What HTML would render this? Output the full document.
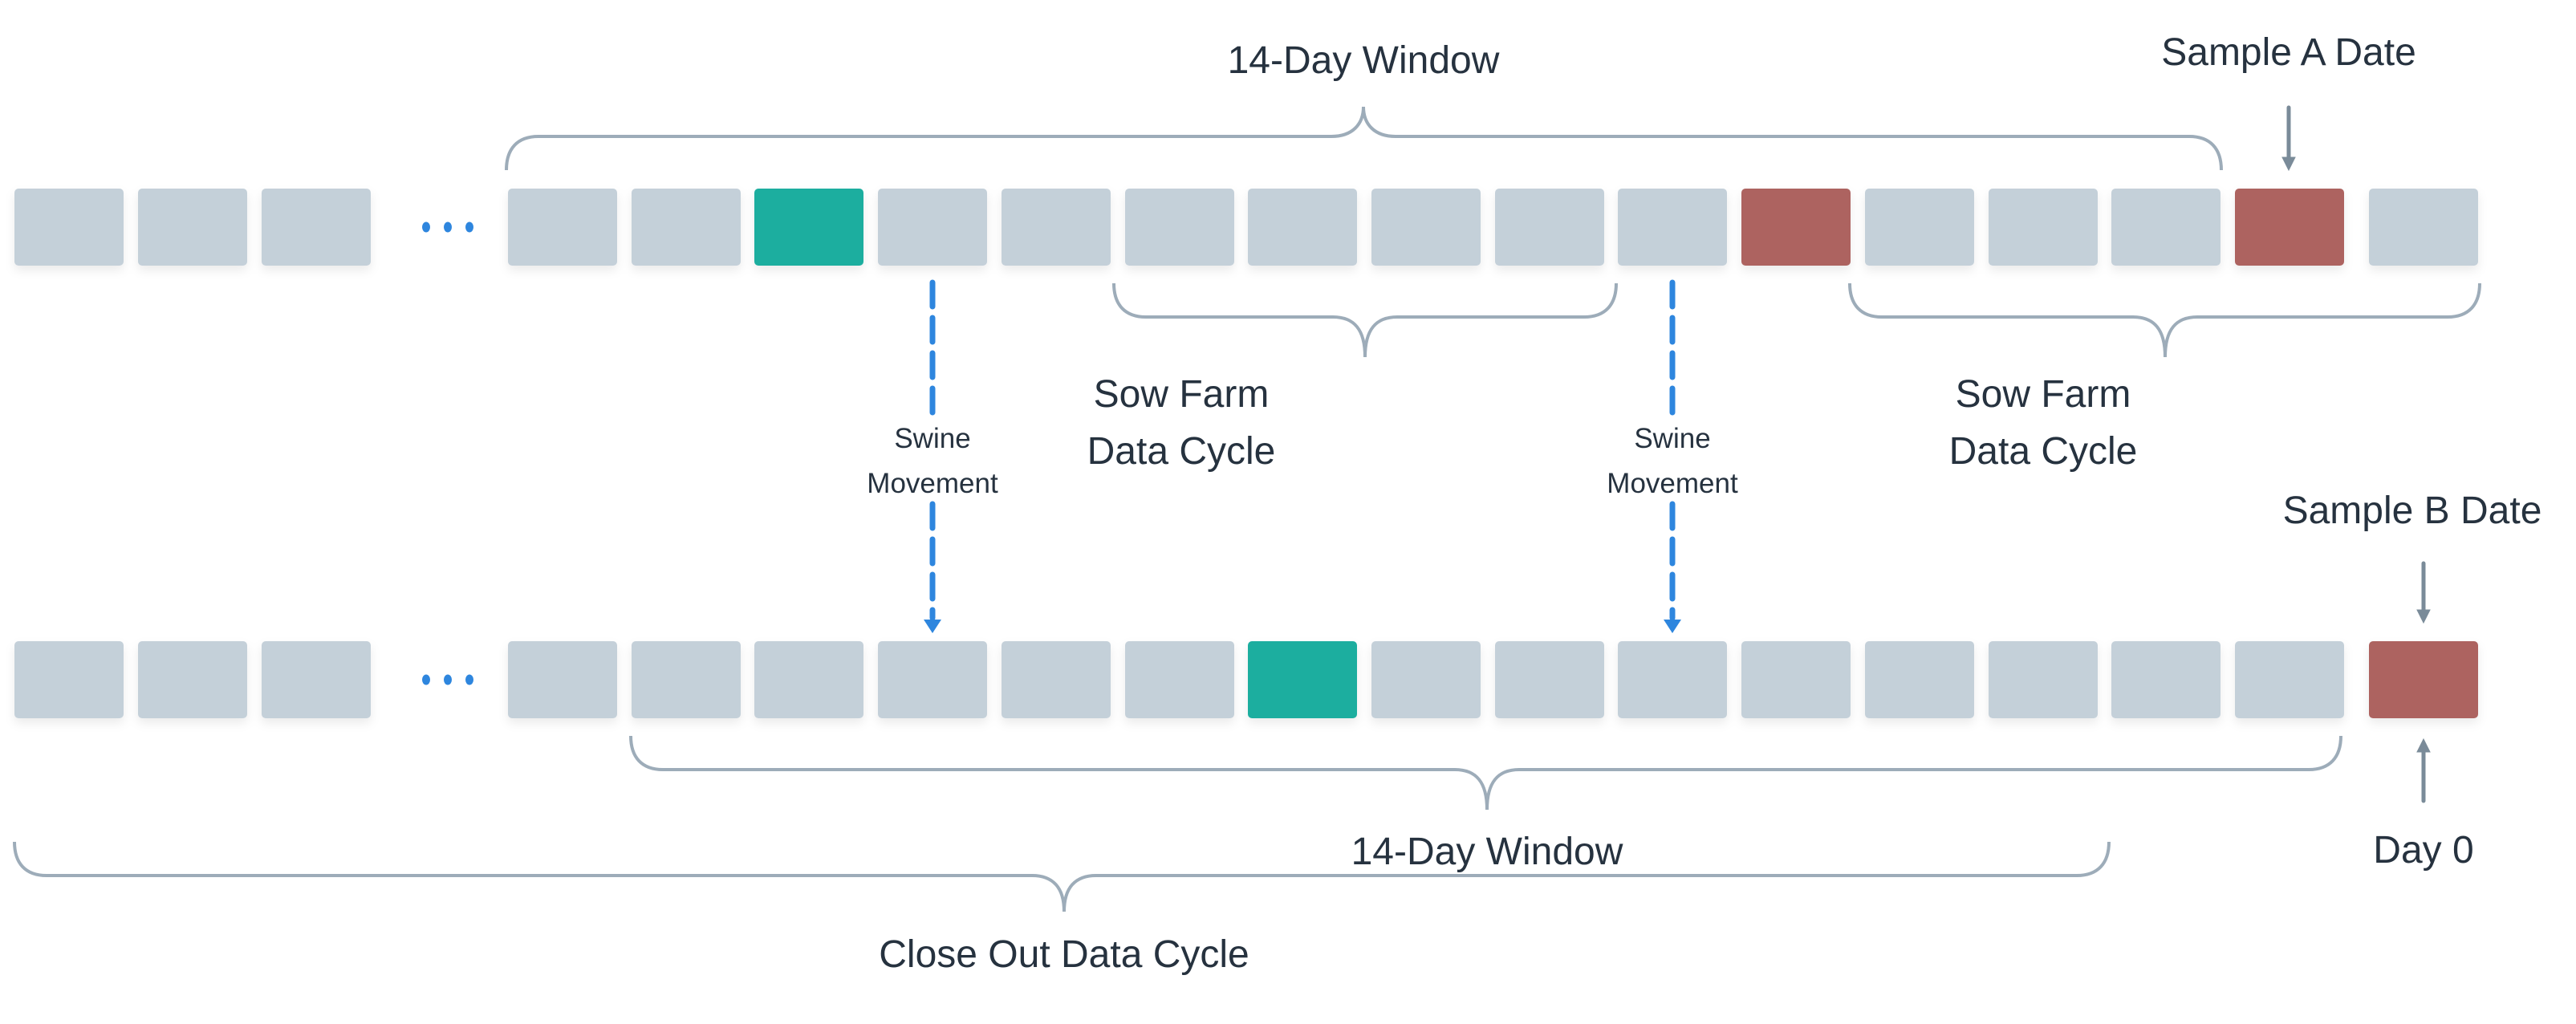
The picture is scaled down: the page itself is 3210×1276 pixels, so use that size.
<!DOCTYPE html>
<html><head><meta charset="utf-8"><style>
html,body{margin:0;padding:0;background:#fff;}
svg{display:block;}
text{font-family:"Liberation Sans",sans-serif;fill:#26323f;}
</style></head><body>
<svg width="3210" height="1276" viewBox="0 0 3210 1276" xmlns="http://www.w3.org/2000/svg">
<defs>
<filter id="sh" x="-20%" y="-20%" width="140%" height="150%"><feDropShadow dx="0" dy="6" stdDeviation="6" flood-color="#000" flood-opacity="0.08"/></filter>
</defs>
<g filter="url(#sh)">
<!-- top row -->
<rect x="18" y="235" width="136" height="96" rx="5" fill="#c4d0d9"/>
<rect x="172" y="235" width="136" height="96" rx="5" fill="#c4d0d9"/>
<rect x="326" y="235" width="136" height="96" rx="5" fill="#c4d0d9"/>
<rect x="633" y="235" width="136" height="96" rx="5" fill="#c4d0d9"/>
<rect x="787" y="235" width="136" height="96" rx="5" fill="#c4d0d9"/>
<rect x="940" y="235" width="136" height="96" rx="5" fill="#1aae9f"/>
<rect x="1094" y="235" width="136" height="96" rx="5" fill="#c4d0d9"/>
<rect x="1248" y="235" width="136" height="96" rx="5" fill="#c4d0d9"/>
<rect x="1402" y="235" width="136" height="96" rx="5" fill="#c4d0d9"/>
<rect x="1555" y="235" width="136" height="96" rx="5" fill="#c4d0d9"/>
<rect x="1709" y="235" width="136" height="96" rx="5" fill="#c4d0d9"/>
<rect x="1863" y="235" width="136" height="96" rx="5" fill="#c4d0d9"/>
<rect x="2016" y="235" width="136" height="96" rx="5" fill="#c4d0d9"/>
<rect x="2170" y="235" width="136" height="96" rx="5" fill="#ad6461"/>
<rect x="2324" y="235" width="136" height="96" rx="5" fill="#c4d0d9"/>
<rect x="2478" y="235" width="136" height="96" rx="5" fill="#c4d0d9"/>
<rect x="2631" y="235" width="136" height="96" rx="5" fill="#c4d0d9"/>
<rect x="2785" y="235" width="136" height="96" rx="5" fill="#ad6461"/>
<rect x="2952" y="235" width="136" height="96" rx="5" fill="#c4d0d9"/>
<!-- bottom row -->
<rect x="18" y="799" width="136" height="96" rx="5" fill="#c4d0d9"/>
<rect x="172" y="799" width="136" height="96" rx="5" fill="#c4d0d9"/>
<rect x="326" y="799" width="136" height="96" rx="5" fill="#c4d0d9"/>
<rect x="633" y="799" width="136" height="96" rx="5" fill="#c4d0d9"/>
<rect x="787" y="799" width="136" height="96" rx="5" fill="#c4d0d9"/>
<rect x="940" y="799" width="136" height="96" rx="5" fill="#c4d0d9"/>
<rect x="1094" y="799" width="136" height="96" rx="5" fill="#c4d0d9"/>
<rect x="1248" y="799" width="136" height="96" rx="5" fill="#c4d0d9"/>
<rect x="1402" y="799" width="136" height="96" rx="5" fill="#c4d0d9"/>
<rect x="1555" y="799" width="136" height="96" rx="5" fill="#1aae9f"/>
<rect x="1709" y="799" width="136" height="96" rx="5" fill="#c4d0d9"/>
<rect x="1863" y="799" width="136" height="96" rx="5" fill="#c4d0d9"/>
<rect x="2016" y="799" width="136" height="96" rx="5" fill="#c4d0d9"/>
<rect x="2170" y="799" width="136" height="96" rx="5" fill="#c4d0d9"/>
<rect x="2324" y="799" width="136" height="96" rx="5" fill="#c4d0d9"/>
<rect x="2478" y="799" width="136" height="96" rx="5" fill="#c4d0d9"/>
<rect x="2631" y="799" width="136" height="96" rx="5" fill="#c4d0d9"/>
<rect x="2785" y="799" width="136" height="96" rx="5" fill="#c4d0d9"/>
<rect x="2952" y="799" width="136" height="96" rx="5" fill="#ad6461"/>
</g>
<!-- dots -->
<g fill="#2e86de">
<ellipse cx="531" cy="283" rx="5" ry="6.5"/><ellipse cx="558" cy="283" rx="5" ry="6.5"/><ellipse cx="585" cy="283" rx="5" ry="6.5"/>
<ellipse cx="531" cy="847" rx="5" ry="6.5"/><ellipse cx="558" cy="847" rx="5" ry="6.5"/><ellipse cx="585" cy="847" rx="5" ry="6.5"/>
</g>
<!-- braces -->
<g fill="none" stroke="#9dacb9" stroke-width="4">
<path d="M631,212 C631,185 645,170 671,170 L1659,170 C1685,170 1699,155 1699,133 C1699,155 1713,170 1739,170 L2728,170 C2754,170 2768,185 2768,212"/>
<path d="M1388,353 C1388,380 1402,395 1428,395 L1661,395 C1687,395 1701,410 1701,445 C1701,410 1715,395 1741,395 L1974,395 C2000,395 2014,380 2014,353"/>
<path d="M2305,353 C2305,380 2319,395 2345,395 L2658,395 C2684,395 2698,410 2698,445 C2698,410 2712,395 2738,395 L3050,395 C3076,395 3090,380 3090,353"/>
<path d="M786,917 C786,944 800,959 826,959 L1813,959 C1839,959 1853,974 1853,1009 C1853,974 1867,959 1893,959 L2877,959 C2903,959 2917,944 2917,917"/>
<path d="M18,1049 C18,1076 32,1091 58,1091 L1286,1091 C1312,1091 1326,1106 1326,1136 C1326,1106 1340,1091 1366,1091 L2588,1091 C2614,1091 2628,1076 2628,1049"/>
</g>
<!-- swine movement arrows -->
<g stroke="#2e86de" stroke-width="7" stroke-linecap="round" fill="none" stroke-dasharray="30 14">
<line x1="1162" y1="352" x2="1162" y2="515"/>
<line x1="1162" y1="628" x2="1162" y2="770"/>
<line x1="2084" y1="352" x2="2084" y2="515"/>
<line x1="2084" y1="628" x2="2084" y2="770"/>
</g>
<g fill="#2e86de">
<path d="M1151,772 L1173,772 L1162,789 Z"/>
<path d="M2073,772 L2095,772 L2084,789 Z"/>
</g>
<!-- sample arrows -->
<g stroke="#7a8b99" stroke-width="5" stroke-linecap="round" fill="#7a8b99">
<line x1="2852" y1="134" x2="2852" y2="198"/>
<path d="M2844,196 L2860,196 L2852,212 Z" stroke-width="1"/>
<line x1="3020" y1="702" x2="3020" y2="762"/>
<path d="M3012,760 L3028,760 L3020,776 Z" stroke-width="1"/>
<line x1="3020" y1="935" x2="3020" y2="998"/>
<path d="M3012,937 L3028,937 L3020,921 Z" stroke-width="1"/>
</g>
<!-- labels -->
<g text-anchor="middle" font-size="48">
<text x="1699" y="91">14-Day Window</text>
<text x="2852" y="81">Sample A Date</text>
<text x="1472" y="507">Sow Farm</text>
<text x="1472" y="578">Data Cycle</text>
<text x="2546" y="507">Sow Farm</text>
<text x="2546" y="578">Data Cycle</text>
<text x="3006" y="652">Sample B Date</text>
<text x="1853" y="1077">14-Day Window</text>
<text x="3020" y="1075">Day 0</text>
<text x="1326" y="1205">Close Out Data Cycle</text>
</g>
<g text-anchor="middle" font-size="35">
<text x="1162" y="558">Swine</text>
<text x="1162" y="614">Movement</text>
<text x="2084" y="558">Swine</text>
<text x="2084" y="614">Movement</text>
</g>
</svg>
</body></html>
